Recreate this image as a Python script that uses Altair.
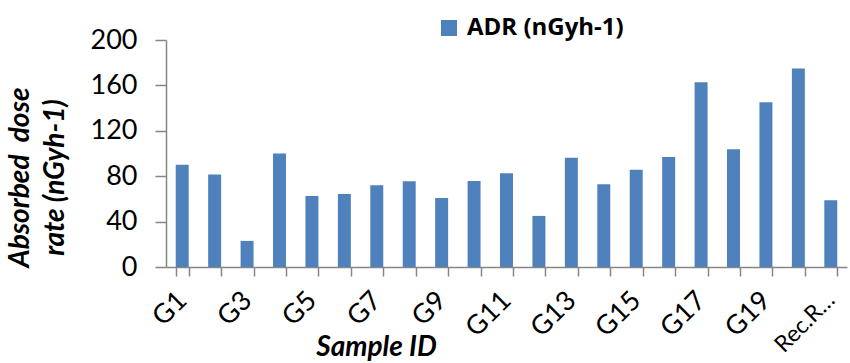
import json
import altair as alt
import pandas as pd

categories = ["G1", "G2", "G3", "G4", "G5", "G6", "G7", "G8", "G9", "G10",
              "G11", "G12", "G13", "G14", "G15", "G16", "G17", "G18", "G19", "G20",
              "Rec.R…"]
values = [90, 81.5, 23, 100, 62.6, 64.3, 72, 75.5, 60.8, 75.8,
          82.5, 45, 96.3, 73, 85.7, 97, 162.7, 103.7, 145.1, 175, 58.8]
series_name = "ADR (nGyh-1)"
y_ticks = [0, 40, 80, 120, 160, 200]
shown_labels = categories[::2]

df = pd.DataFrame({"sample": categories, "adr": values, "series": series_name})

FONT = "Lato"
AXIS_GRAY = "#868686"

label_expr = "indexof(" + json.dumps(shown_labels) + ", datum.value) >= 0 ? datum.label : ''"
long_label_test = "length(datum.label) > 3"

chart = alt.Chart(df).mark_bar(color="#4F81BD").encode(
    x=alt.X(
        "sample:N",
        sort=categories,
        scale=alt.Scale(paddingInner=0.6, paddingOuter=0.3),
        axis=alt.Axis(
            title="Sample ID",
            titleFont=FONT, titleFontSize=28, titleFontWeight="bold", titleFontStyle="italic",
            titleColor="black",
            titleX=210, titleY=80, titleAlign="center", titleBaseline="middle", titleAngle=0,
            labelExpr=label_expr,
            labelAngle=-45, labelAlign="right", labelBaseline="middle",
            labelFont=FONT,
            labelFontSize={"condition": {"test": long_label_test, "value": 23}, "value": 27},
            labelColor="black",
            labelPadding=20, labelOverlap=False, labelBound=False,
            tickBand="extent", tickSize=9, tickColor=AXIS_GRAY, tickWidth=1.5,
            domainColor=AXIS_GRAY, domainWidth=1.5,
            grid=False,
        ),
    ),
    y=alt.Y(
        "adr:Q",
        scale=alt.Scale(domain=[0, 200]),
        axis=alt.Axis(
            values=y_ticks,
            title=["Absorbed\u00a0 dose", "rate (nGyh-1)"],
            titleFont=FONT, titleFontSize=28, titleFontWeight="bold", titleFontStyle="italic",
            titleColor="black", titleLineHeight=35,
            titleX=-146, titleY=137, titleAlign="center", titleBaseline="middle", titleAngle=-90,
            labelFont=FONT, labelFontSize=27, labelColor="black", labelPadding=18,
            tickSize=11, tickColor=AXIS_GRAY, tickWidth=1.5,
            domainColor=AXIS_GRAY, domainWidth=1.5,
            grid=False,
        ),
    ),
    color=alt.Color(
        "series:N",
        scale=alt.Scale(range=["#4F81BD"]),
        legend=alt.Legend(
            title=None, orient="none", legendX=271, legendY=-24,
            symbolType="square", symbolSize=256, symbolStrokeWidth=0,
            labelFont="Open Sans", labelFontSize=24, labelFontWeight="bold", labelColor="black",
            labelOffset=6, padding=0,
        ),
    ),
).properties(
    width=681,
    height=227,
    padding={"left": 166, "top": 40, "right": 3, "bottom": 96},
    autosize=alt.AutoSizeParams(type="none"),
).configure_view(stroke=None)

chart.save("out.html", embed_options={"renderer": "svg", "actions": False})
